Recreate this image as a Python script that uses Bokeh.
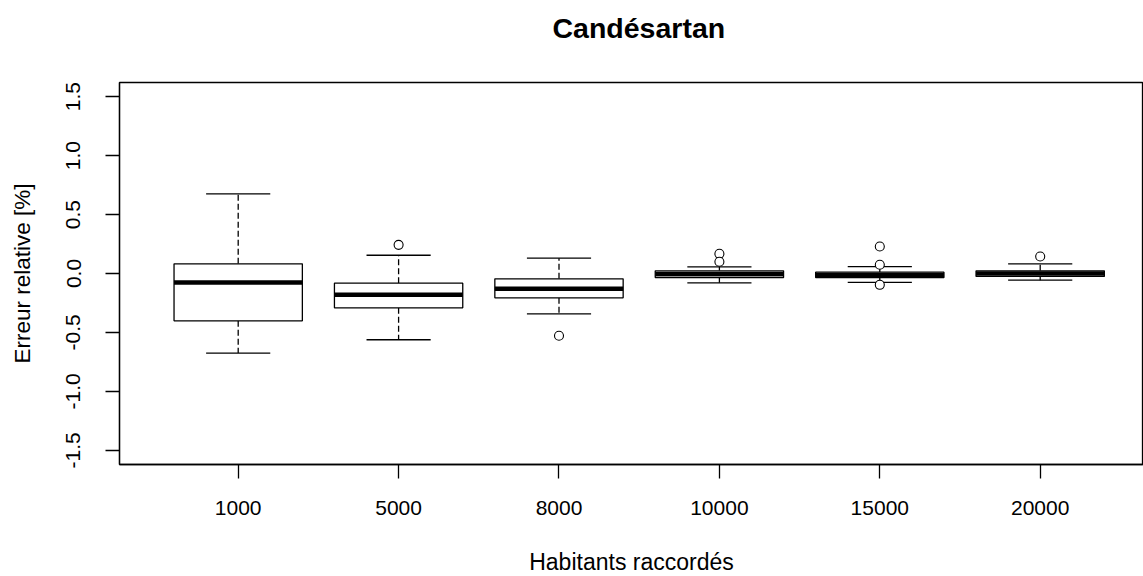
from bokeh.plotting import figure
from bokeh.models import FixedTicker, LinearAxis, Range1d, Title
from bokeh.embed import file_html
from bokeh.resources import INLINE

# ---- data ----
categories = ["1000", "5000", "8000", "10000", "15000", "20000"]
positions = [1, 2, 3, 4, 5, 6]
lower_whisker = [-0.675, -0.562, -0.342, -0.079, -0.076, -0.057]
q1 = [-0.401, -0.291, -0.206, -0.034, -0.034, -0.025]
median = [-0.076, -0.181, -0.130, -0.005, -0.012, 0.000]
q3 = [0.082, -0.082, -0.045, 0.023, 0.011, 0.023]
upper_whisker = [0.675, 0.155, 0.130, 0.057, 0.059, 0.082]
outlier_group = [2, 3, 4, 4, 5, 5, 5, 6]
outlier_value = [0.243, -0.528, 0.167, 0.100, 0.229, 0.074, -0.096, 0.144]
y_ticks = [-1.5, -1.0, -0.5, 0.0, 0.5, 1.0, 1.5]

BOX_W = 0.8
CAP_HALF = 0.2
FONT = "Liberation Sans"

p = figure(
    frame_width=1024, frame_height=382,
    x_range=Range1d(0.26, 6.644), y_range=Range1d(-1.62, 1.62),
    output_backend="svg", toolbar_location=None,
    min_border_left=119, min_border_right=0,
    min_border_top=82, min_border_bottom=112,
    x_axis_location=None, y_axis_location=None,
)
p.xgrid.visible = False
p.ygrid.visible = False
p.outline_line_color = "black"
p.outline_line_width = 1.3
p.background_fill_color = "white"
p.border_fill_color = "white"

# spacer between frame and title
p.add_layout(Title(text=" ", text_font_size="1px", standoff=31), "above")

# title
p.title.text = "Candésartan"
p.title.align = "left"
p.title.offset = 433
p.title.standoff = 10
p.title.text_font = FONT
p.title.text_font_size = "28.5px"
p.title.text_font_style = "bold"
p.title.text_color = "black"

# bottom axis
xaxis = LinearAxis(
    ticker=FixedTicker(ticks=positions),
    major_label_overrides={pos: lab for pos, lab in zip(positions, categories)},
    axis_label="Habitants raccordés",
)
# left axis
yaxis = LinearAxis(
    ticker=FixedTicker(ticks=y_ticks),
    major_label_overrides={t: f"{t:.1f}" for t in y_ticks},
    axis_label="Erreur relative [%]",
    major_label_orientation="vertical",
)
for ax in (xaxis, yaxis):
    ax.major_tick_in = 0
    ax.major_tick_out = 14
    ax.minor_tick_line_color = None
    ax.axis_line_color = "black"
    ax.axis_line_width = 1.3
    ax.major_tick_line_color = "black"
    ax.major_tick_line_width = 1.3
    ax.major_label_text_font = FONT
    ax.major_label_text_font_size = "21px"
    ax.major_label_text_color = "black"
    ax.axis_label_text_font = FONT
    ax.axis_label_text_font_style = "normal"
    ax.axis_label_text_color = "black"
xaxis.axis_label_text_font_size = "23px"
yaxis.axis_label_text_font_size = "22.5px"
xaxis.major_label_standoff = 22
xaxis.axis_label_standoff = 31
yaxis.major_label_standoff = 25
yaxis.axis_label_standoff = 29
p.add_layout(xaxis, "below")
p.add_layout(yaxis, "left")

# whiskers (dashed)
p.segment(x0=positions, y0=q3, x1=positions, y1=upper_whisker,
          line_color="black", line_width=1.3, line_dash="6 3")
p.segment(x0=positions, y0=q1, x1=positions, y1=lower_whisker,
          line_color="black", line_width=1.3, line_dash="6 3")
# whisker caps
cap_left = [x - CAP_HALF for x in positions]
cap_right = [x + CAP_HALF for x in positions]
p.segment(x0=cap_left, y0=upper_whisker, x1=cap_right, y1=upper_whisker,
          line_color="black", line_width=1.3)
p.segment(x0=cap_left, y0=lower_whisker, x1=cap_right, y1=lower_whisker,
          line_color="black", line_width=1.3)
# boxes
p.vbar(x=positions, width=BOX_W, top=q3, bottom=q1,
       fill_color="white", line_color="black", line_width=1.3)
# medians
p.rect(x=positions, y=median, width=BOX_W, height=4.5, height_units="screen",
       fill_color="black", line_color=None)
# outliers
p.scatter(x=outlier_group, y=outlier_value, marker="circle", size=9,
          fill_color="white", line_color="black", line_width=1.1)

open("out.html", "w").write(file_html(p, INLINE))
